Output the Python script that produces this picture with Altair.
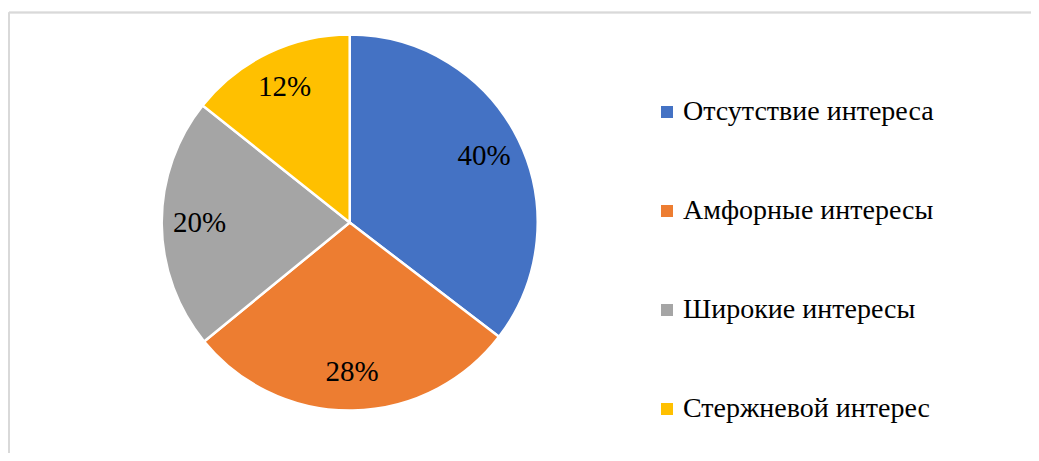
import altair as alt
import pandas as pd

categories = ["Отсутствие интереса", "Амфорные интересы", "Широкие интересы", "Стержневой интерес"]
slice_values = [35.4, 28.7, 21.6, 14.3]
label_texts = ["40%", "28%", "20%", "12%"]
colors = ["#4472C4", "#ED7D31", "#A5A5A5", "#FFC000"]

df = pd.DataFrame({
    "category": categories,
    "value": slice_values,
    "label": label_texts,
    "order": list(range(len(categories))),
})

W, H = 1023, 445
CX, CY = 340.7, 214.5
FONT = "Times New Roman, Liberation Serif, DejaVu Serif, serif"

color = alt.Color(
    "category:N",
    scale=alt.Scale(domain=categories, range=colors),
    sort=categories,
    legend=alt.Legend(
        title=None,
        orient="none",
        legendX=644,
        legendY=90,
        symbolType="square",
        symbolSize=144,
        symbolStrokeWidth=0,
        labelFont=FONT,
        labelFontSize=28,
        labelColor="#000000",
        labelOffset=2,
        rowPadding=71,
        padding=0,
        labelLimit=400,
    ),
)

base = alt.Chart(df).encode(
    theta=alt.Theta("value:Q", stack=True),
    order=alt.Order("order:Q"),
)

pie = base.mark_arc(stroke="white", strokeWidth=2.5, outerRadius=188).encode(
    color=color,
    x=alt.value(CX),
    y=alt.value(CY),
)

labels = base.mark_text(
    radius=150, font=FONT, fontSize=29, color="#000000",
    align="center", baseline="middle",
).encode(
    text="label:N",
    x=alt.value(CX),
    y=alt.value(CY),
)

border_top = alt.Chart(df).mark_rule(color="#D9D9D9", strokeWidth=1.5).encode(
    x=alt.value(0), x2=alt.value(W), y=alt.value(4.5)
)
border_left = alt.Chart(df).mark_rule(color="#D9D9D9", strokeWidth=1.5).encode(
    x=alt.value(0), y=alt.value(4.5), y2=alt.value(H)
)

chart = alt.layer(border_top, border_left, pie, labels).properties(
    width=W, height=H,
    autosize=alt.AutoSizeParams(type="fit", contains="padding"),
    padding=0,
).configure(background="white", view=alt.ViewConfig(stroke=None))

chart.save("out.html", embed_options={"renderer": "svg", "actions": False})
